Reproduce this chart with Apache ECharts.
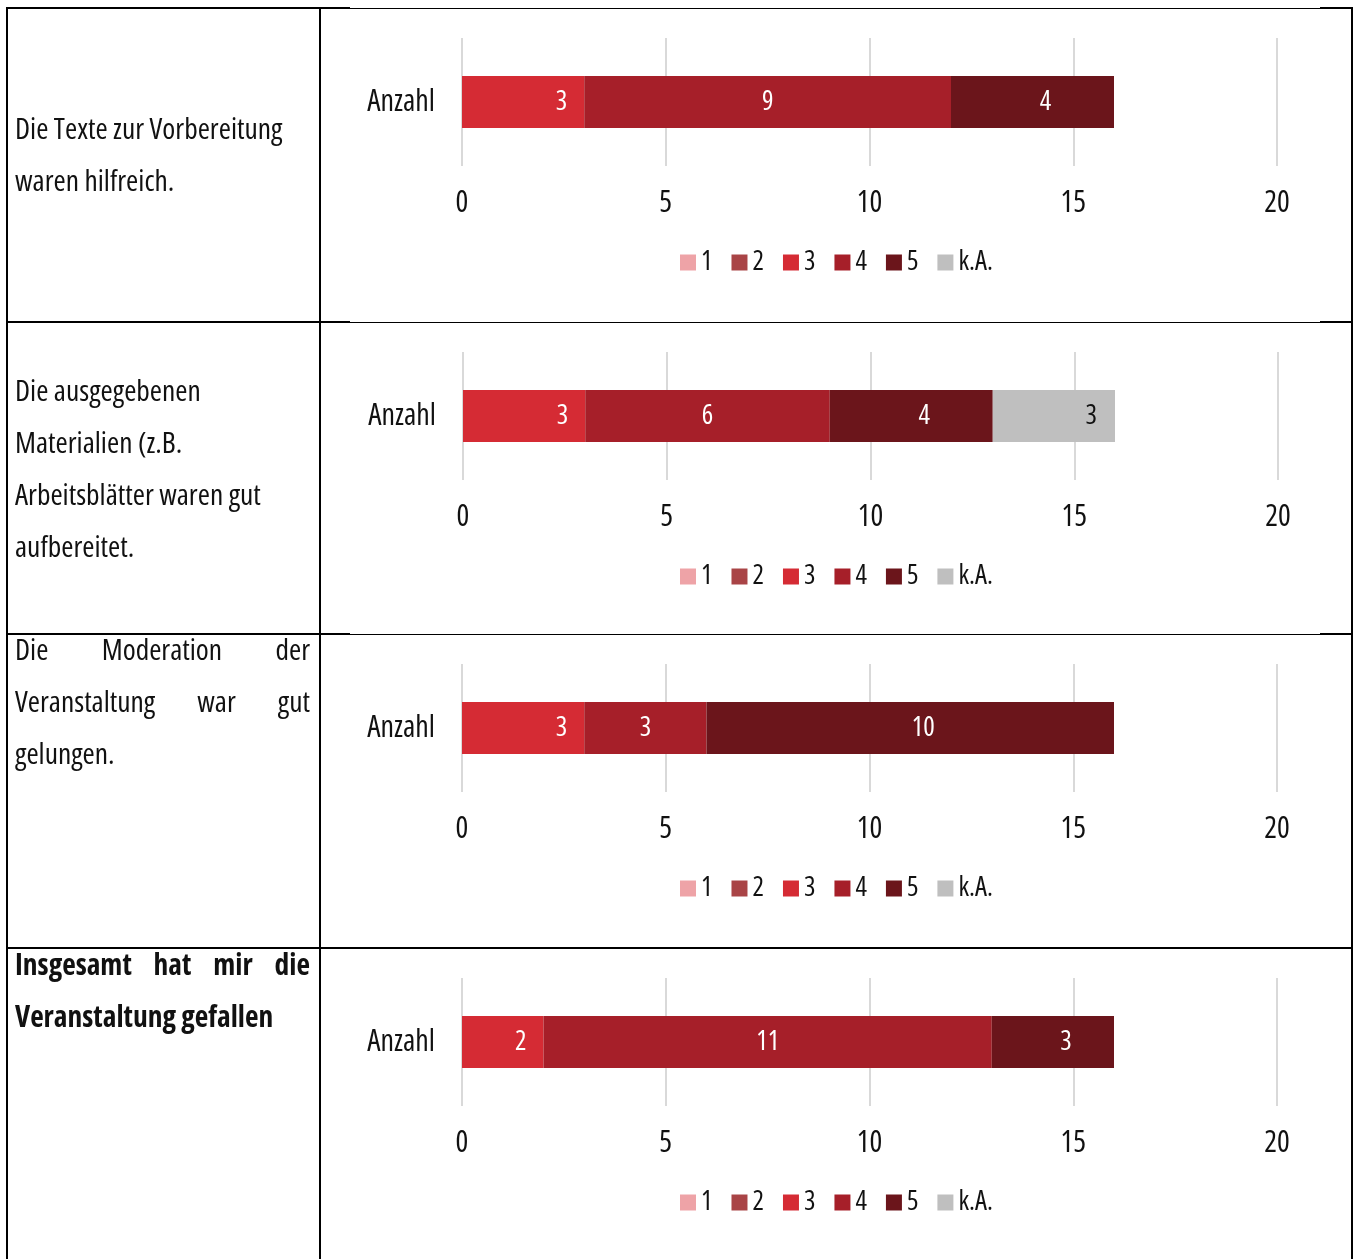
<!DOCTYPE html>
<html>
<head>
<meta charset="utf-8">
<script src="https://cdn.jsdelivr.net/npm/echarts@6/dist/echarts.min.js"></script>
<style>
html,body{margin:0;padding:0;background:#fff;}
#c{width:1359px;height:1259px;}
</style>
</head>
<body>
<div id="c"></div>
<script>
// ---- data ----
const categories = ['Anzahl'];
const ratingNames = ['1', '2', '3', '4', '5', 'k.A.'];
const rating1 = [0, 0, 0, 0];
const rating2 = [0, 0, 0, 0];
const rating3 = [3, 3, 3, 2];
const rating4 = [9, 6, 3, 11];
const rating5 = [4, 4, 10, 3];
const ratingKA = [0, 3, 0, 0];
const axisTicks = [0, 5, 10, 15, 20];
const questions = [
  { lines: ['Die Texte zur Vorbereitung', 'waren hilfreich.'], justify: [false, false], bold: false },
  { lines: ['Die ausgegebenen', 'Materialien (z.B.', 'Arbeitsblätter waren gut', 'aufbereitet.'], justify: [false, false, false, false], bold: false },
  { lines: ['Die Moderation der', 'Veranstaltung war gut', 'gelungen.'], justify: [true, true, false], bold: false },
  { lines: ['Insgesamt hat mir die', 'Veranstaltung gefallen'], justify: [true, false], bold: true }
];

// ---- font selection: a narrow, regular-weight face among the installed ones ----
const mcv = document.createElement('canvas'); mcv.width = 900; mcv.height = 80;
const mctx = mcv.getContext('2d');
const SAMPLE = 'Veranstaltung Anzahl 0123456789';
function fontStr(c, size, fb) { return [c.style || '', c.weight || 'normal', size + 'px', c.family + (fb ? ', ' + fb : '')].join(' ').trim(); }
function w(c, fb) { mctx.font = '10px serif'; mctx.font = fontStr(c, 40, fb); return mctx.measureText(SAMPLE).width; }
function stem(c) {
  mctx.clearRect(0, 0, 900, 80);
  mctx.font = fontStr(c, 40, 'sans-serif'); mctx.fillStyle = '#000'; mctx.textBaseline = 'alphabetic';
  mctx.fillText('llllllll', 10, 60);
  const row = mctx.getImageData(0, 50, 900, 1).data;
  let runs = 0, ink = 0, inRun = false;
  for (let i = 0; i < 900; i++) { const a = row[i * 4 + 3] > 127; if (a) { ink++; if (!inRun) runs++; } inRun = a; }
  return runs ? ink / runs : 99;
}
const refStem = stem({ family: '"Liberation Sans"' });
const refW = w({ family: '"Liberation Sans"' }, 'sans-serif');
const cands = [
  { family: '"Liberation Sans Narrow"' },
  { style: 'condensed', family: '"Open Sans"' },
  { family: '"Roboto Condensed"' },
  { style: 'condensed', family: '"Noto Sans"' },
  { family: '"Noto Sans Condensed"' },
  { family: '"Open Sans Condensed"' },
  { family: '"Open Sans Condensed"', weight: '300' },
  { style: 'semi-condensed', family: '"Open Sans"' },
  { style: 'condensed', family: 'Roboto' },
  { family: '"DejaVu Sans Condensed"' }
];
let chosen = { family: '"DejaVu Sans Condensed"' };
for (const c of cands) {
  const installed = Math.abs(w(c, 'monospace') - w(c, 'serif')) < 0.5;
  if (!installed) continue;
  if (c.style) { const plain = w({ family: c.family }, 'sans-serif'); if (w(c, 'sans-serif') > plain * 0.93) continue; }
  if (w(c, 'sans-serif') > refW * 0.92) continue;
  const s = stem(c);
  if (s > refStem * 1.35) continue;
  chosen = c; break;
}
const FONT = chosen.family + ', sans-serif';
const FSTYLE = chosen.style || 'normal';
const FWEIGHT = chosen.weight || 'normal';
const FBOLD = 'bold';

// ---- style ----
const colors = ['#eea3a7', '#a94446', '#d52b34', '#a61f29', '#6b151b', '#bfbfbf'];
const rowOffsets = [0, 314, 626, 940];
const gridLeft = [462, 463, 462, 462];
const ratingData = [rating1, rating2, rating3, rating4, rating5, ratingKA];
function ts(size, extra) { return Object.assign({ fontSize: size, fontFamily: FONT, fontStyle: FSTYLE, fontWeight: FWEIGHT }, extra || {}); }

const chart = echarts.init(document.getElementById('c'), null, { renderer: 'canvas' });

const grids = [], xAxes = [], yAxes = [], series = [], legends = [];
for (let r = 0; r < 4; r++) {
  const off = rowOffsets[r];
  grids.push({ left: gridLeft[r], width: 815, top: 38 + off, height: 128, containLabel: false });
  xAxes.push({
    type: 'value', gridIndex: r, min: axisTicks[0], max: axisTicks[axisTicks.length - 1], interval: 5,
    axisLine: { show: false }, axisTick: { show: false },
    splitLine: { show: true, lineStyle: { color: '#d9d9d9', width: 2 } },
    axisLabel: ts(30, { color: '#111', margin: 22 })
  });
  yAxes.push({
    type: 'category', gridIndex: r, data: categories,
    axisLine: { show: false }, axisTick: { show: false },
    axisLabel: ts(30, { color: '#111', margin: 27 })
  });
  ratingNames.forEach((name, k) => {
    const v = ratingData[k][r];
    let label = ts(27, { show: true, color: '#fff', formatter: p => (p.value ? String(p.value) : '') });
    if (k === 2) { label.position = 'insideRight'; label.distance = 17; }
    else if (k === 4) { label.position = 'inside'; label.offset = [13, 0]; }
    else if (k === 5) { label.position = 'insideRight'; label.distance = 18; label.color = '#111'; }
    else { label.position = 'inside'; }
    series.push({
      name: name, type: 'bar', stack: 'row' + r, xAxisIndex: r, yAxisIndex: r,
      barWidth: 52, data: [v || null], itemStyle: { color: colors[k] },
      label: label, emphasis: { disabled: true }, silent: true
    });
  });
  legends.push({
    data: ratingNames, left: 675, top: 244 + off, itemWidth: 16, itemHeight: 16, itemGap: 19,
    icon: 'rect', selectedMode: false,
    textStyle: ts(27, { color: '#111' })
  });
}

// ---- table lines and left texts ----
const graphics = [];
function hline(y, x1, x2, lw) {
  graphics.push({ type: 'line', shape: { x1: x1, y1: y, x2: x2, y2: y }, style: { stroke: '#000', lineWidth: lw }, z: 100 });
}
function vline(x, y1, y2, lw) {
  graphics.push({ type: 'line', shape: { x1: x, y1: y1, x2: x, y2: y2 }, style: { stroke: '#000', lineWidth: lw }, z: 100 });
}
[8, 322, 634].forEach(y => { hline(y, 6, 350, 2); hline(y + 0.5, 350, 1320, 1); hline(y, 1320, 1353, 2); });
hline(948, 6, 1353, 2);
vline(7, 7, 1259, 2);
vline(320, 7, 1259, 2);
vline(1352, 7, 1259, 2);

const lineStarts = [131, 393, 652, 967];
const TXT = 29.5;
questions.forEach((q, r) => {
  const weight = q.bold ? FBOLD : FWEIGHT;
  mctx.font = [FSTYLE, weight, TXT + 'px', FONT].join(' ');
  q.lines.forEach((ln, i) => {
    const y = lineStarts[r] + i * 52;
    const style = { fill: '#111', fontSize: TXT, fontFamily: FONT, fontStyle: FSTYLE, fontWeight: weight, verticalAlign: 'middle' };
    const full = mctx.measureText(ln).width;
    const sx = Math.min(1, 295 / full);
    if (q.justify[i]) {
      const words = ln.split(' ');
      const widths = words.map(t => mctx.measureText(t).width * sx);
      const total = widths.reduce((a, b) => a + b, 0);
      const gap = (310 - 15 - total) / (words.length - 1);
      let x = 15;
      words.forEach((t, j) => {
        graphics.push({ type: 'text', x: x, y: y, scaleX: sx, style: Object.assign({ text: t, align: 'left' }, style), z: 100 });
        x += widths[j] + gap;
      });
    } else {
      graphics.push({ type: 'text', x: 15, y: y, scaleX: sx, style: Object.assign({ text: ln, align: 'left' }, style), z: 100 });
    }
  });
});

chart.setOption({
  backgroundColor: '#fff',
  animation: false,
  grid: grids, xAxis: xAxes, yAxis: yAxes, series: series, legend: legends,
  graphic: graphics
});
</script>
</body>
</html>
